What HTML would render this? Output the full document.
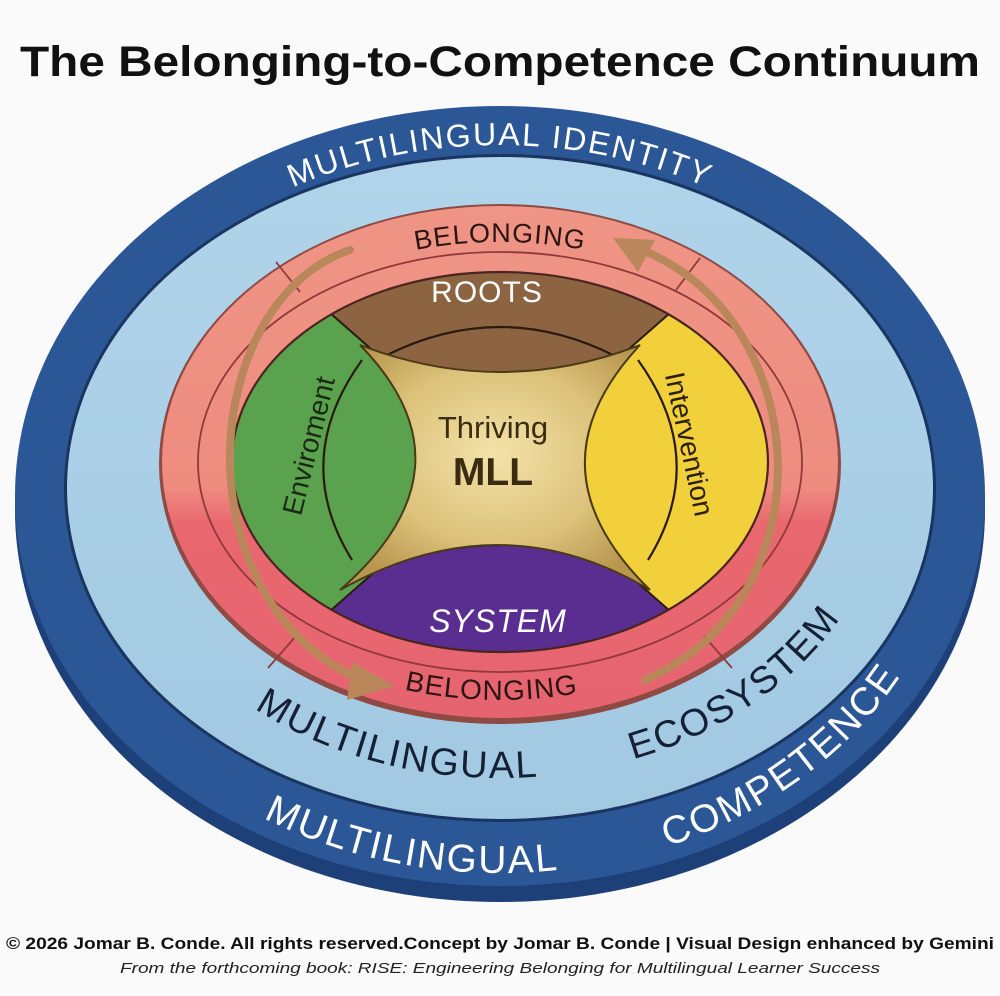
<!DOCTYPE html>
<html><head><meta charset="utf-8"><style>
html,body{margin:0;padding:0;background:#fafafa;}
body{width:1000px;height:996px;overflow:hidden;}
svg{display:block;}
</style></head><body>
<svg width="1000" height="996" viewBox="0 0 1000 996" xmlns="http://www.w3.org/2000/svg">
<defs>
<radialGradient id="gold" cx="50%" cy="45%" r="60%">
<stop offset="0" stop-color="#f3e2a8"/><stop offset="0.6" stop-color="#dcc27a"/><stop offset="1" stop-color="#b8964e"/>
</radialGradient>
<linearGradient id="sal" x1="0" y1="0" x2="0" y2="1">
<stop offset="0" stop-color="#ef9585"/><stop offset="0.55" stop-color="#ee8c80"/><stop offset="0.62" stop-color="#e9686f"/><stop offset="1" stop-color="#e66470"/>
</linearGradient>
<linearGradient id="lb" x1="0" y1="0" x2="0" y2="1">
<stop offset="0" stop-color="#b0d4ea"/><stop offset="1" stop-color="#a2c9e2"/>
</linearGradient>
<clipPath id="disc"><ellipse cx="500" cy="462" rx="268" ry="190"/></clipPath>
<path id="pTop1" d="M 60,505 A 440 360 0 0 1 940,505"/>
<path id="pBot1" d="M 42,490 A 458 383 0 0 0 958,490"/>
<path id="pBot2" d="M 112,470 A 388 308 0 0 0 888,470"/>
<path id="pTopB" d="M 180,470 A 320 228 0 0 1 820,470"/>
<path id="pBotB" d="M 180,470 A 320 230 0 0 0 820,470"/>
</defs>
<text x="500" y="76" text-anchor="middle" font-family="Liberation Sans, sans-serif" font-weight="bold" font-size="43" textLength="960" lengthAdjust="spacingAndGlyphs" fill="#111">The Belonging-to-Competence Continuum</text>

<ellipse cx="500" cy="510" rx="485" ry="392" fill="#1d4078"/>
<ellipse cx="500" cy="496" rx="485" ry="390" fill="#2b5797"/>
<ellipse cx="500" cy="488" rx="436" ry="334" fill="#1a3560"/>
<ellipse cx="500" cy="488" rx="433" ry="331" fill="url(#lb)"/>
<ellipse cx="500" cy="464" rx="341" ry="260" fill="#8f4a44"/>
<ellipse cx="500" cy="462" rx="338" ry="256" fill="url(#sal)"/>
<ellipse cx="500" cy="462" rx="302" ry="210" fill="none" stroke="#8f3a38" stroke-width="1.8"/>
<line x1="276" y1="262" x2="300" y2="292" stroke="#8f3a38" stroke-width="1.8"/>
<line x1="700" y1="258" x2="676" y2="290" stroke="#8f3a38" stroke-width="1.8"/>
<line x1="268" y1="668" x2="296" y2="636" stroke="#8f3a38" stroke-width="1.8"/>
<line x1="732" y1="668" x2="704" y2="636" stroke="#8f3a38" stroke-width="1.8"/>

<g clip-path="url(#disc)">
<polygon points="500,462 200,199 800,199" fill="#8c6441"/>
<polygon points="500,462 200,725 800,725" fill="#5a2e90"/>
<polygon points="500,462 200,199 200,725" fill="#5aa24d"/>
<polygon points="500,462 800,199 800,725" fill="#f2d03c"/>
<line x1="200" y1="199" x2="800" y2="725" stroke="#2a1a10" stroke-width="2"/>
<line x1="800" y1="199" x2="200" y2="725" stroke="#2a1a10" stroke-width="2"/>
</g>
<ellipse cx="500" cy="462" rx="268" ry="190" fill="none" stroke="#4a2420" stroke-width="2.2"/>
<g fill="none" stroke="#2a1a10" stroke-width="2.2">
<path d="M 385,356 Q 500,298 615,356"/>
<path d="M 372,572 Q 500,518 628,572"/>
<path d="M 362,360 Q 290,460 352,560"/>
<path d="M 638,360 Q 710,460 648,560"/>
</g>
<path d="M 360,345 Q 500,399 640,345 Q 525,468 650,590 Q 500,500 340,590 Q 480,468 360,345 Z" fill="url(#gold)" stroke="#4a3a18" stroke-width="2"/>

<g fill="none" stroke="#b9875a" stroke-width="8" stroke-linecap="round">
<path d="M 350,250 C 200,300 175,600 365,682"/>
<path d="M 645,680 C 830,600 815,320 642,250"/>
</g>
<polygon points="395,686 352,662 347,700" fill="#b9875a"/>
<polygon points="613,238 655,240 638,272" fill="#b9875a"/>

<g font-family="Liberation Sans, sans-serif">
<text font-size="32" fill="#ffffff" letter-spacing="2"><textPath href="#pTop1" startOffset="50%" text-anchor="middle">MULTILINGUAL IDENTITY</textPath></text>
<text font-size="39" fill="#ffffff" letter-spacing="2"><textPath href="#pBot1" startOffset="43%" text-anchor="middle">MULTILINGUAL</textPath></text>
<text font-size="39" fill="#ffffff" letter-spacing="2"><textPath href="#pBot1" startOffset="74%" text-anchor="middle">COMPETENCE</textPath></text>
<text font-size="38" fill="#152036" letter-spacing="2"><textPath href="#pBot2" startOffset="40%" text-anchor="middle">MULTILINGUAL</textPath></text>
<text font-size="38" fill="#152036" letter-spacing="2"><textPath href="#pBot2" startOffset="74%" text-anchor="middle">ECOSYSTEM</textPath></text>
<text font-size="27" fill="#2a1512" letter-spacing="1"><textPath href="#pTopB" startOffset="50%" text-anchor="middle">BELONGING</textPath></text>
<text font-size="28" fill="#2a1512" letter-spacing="1"><textPath href="#pBotB" startOffset="49%" text-anchor="middle">BELONGING</textPath></text>
<text x="487" y="302" text-anchor="middle" font-size="30" fill="#ffffff" letter-spacing="1">ROOTS</text>
<text x="498" y="632" text-anchor="middle" font-size="32" fill="#ffffff" font-style="italic" letter-spacing="1">SYSTEM</text>
<text x="493" y="438" text-anchor="middle" font-size="31" fill="#3a2c10">Thriving</text>
<text x="493" y="485" text-anchor="middle" font-size="39" font-weight="bold" fill="#3a2c10">MLL</text>
<text transform="translate(318,448) rotate(-76)" text-anchor="middle" font-size="28" fill="#1a2a12">Enviroment</text>
<text transform="translate(680,446) rotate(78)" text-anchor="middle" font-size="28" fill="#2a2000">Intervention</text>
</g>

<text x="500" y="949" text-anchor="middle" font-family="Liberation Sans, sans-serif" font-weight="bold" font-size="16.5" textLength="988" lengthAdjust="spacingAndGlyphs" fill="#111">© 2026 Jomar B. Conde. All rights reserved.Concept by Jomar B. Conde | Visual Design enhanced by Gemini</text>
<text x="500" y="973" text-anchor="middle" font-family="Liberation Sans, sans-serif" font-style="italic" font-size="15" textLength="760" lengthAdjust="spacingAndGlyphs" fill="#222">From the forthcoming book: RISE: Engineering Belonging for Multilingual Learner Success</text>
</svg>
</body></html>
